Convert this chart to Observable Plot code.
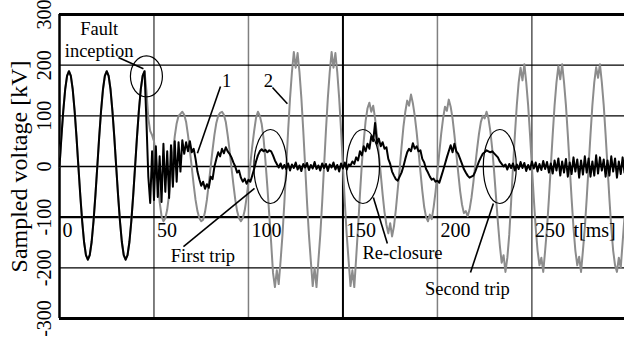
<!DOCTYPE html>
<html><head><meta charset="utf-8">
<script src="https://cdn.jsdelivr.net/npm/d3@7"></script>
<script src="https://cdn.jsdelivr.net/npm/@observablehq/plot@0.6"></script>
<style>body{margin:0;background:#fff;overflow:hidden} svg text{font-family:"Liberation Serif","Times New Roman",serif}</style>
</head><body><div id="chart"></div>
<script>
// sampling step of the read-off series (ms)
const stepMs = 1;

// Series 1 (black) – sampled voltage [kV], one value per ms from t = 0
const series1 = [
0,58,110,152,179,188,179,152,110,58, 0,-57,-108,-149,-175,-184,-175,-149,-108,-57,
0,58,110,152,179,188,179,152,110,58, 0,-57,-108,-149,-175,-184,-175,-149,-108,-57,
0,58,110,152,179,188,
90,-20,-72,30,-66,40,-60,20,-70,45,
-50,30,-62,42,-40,50,-30,48,-10,52,
25,48,30,50,28,35,15,-10,-25,-38,
-30,-44,-35,-42,-20,-25,0,15,28,20,
35,26,38,30,25,18,8,0,-12,-8,
-22,-30,-24,-34,-26,-30,-18,-5,10,22,
30,34,30,33,28,32,30,22,12,5,
-2,6,-4,3,
-5,6,-8,4,-3,8,-6,2,-9,5,
-2,7,-7,3,-4,9,-5,2,-8,6,
-3,5,-9,4,-2,8,-6,3,-10,6,
-4,8,-6,4,
2,10,5,18,12,30,
22,40,30,45,35,60,50,86,45,55,
40,48,35,38,15,5,-10,-18,-25,-28,
-20,-12,0,15,28,35,30,46,35,40,
30,32,15,8,-5,-12,-20,-26,-24,-30,
-28,-32,-20,-8,5,18,30,42,28,45,
30,25,15,5,-5,-12,-18,-22,-20,-18,
-10,0,10,18,25,28,32,30,28,30,
26,22,18,10,5,0,4,-6,5,-3,
6,-8,4,-5,9,-3,7,-9,3,-6,
10,-4,8,-10,5,-7,11,-5,9,-12,
6,-14,12,-8,16,-18,10,-12,15,-20,
8,-15,18,-10,14,-22,12,-16,20,-12,
16,-20,10,-18,22,-14,18,-8,14,-20,
12,-18,20,-10,16,-22,10,-15,18,-12
];

// Series 2 (grey) – sampled voltage [kV], one value per ms from t = 0
const series2 = [
0,58,110,152,179,188,179,152,110,58, 0,-57,-108,-149,-175,-184,-175,-149,-108,-57,
0,58,110,152,179,188,179,152,110,58, 0,-57,-108,-149,-175,-184,-175,-149,-108,-57,
0,58,110,152,179,188,
150,95,70,62,50,20,-25,-70,-98,-108,
-102,-85,-55,-15,25,60,85,100,104,108,
102,88,62,32,-2,-36,-66,-88,-102,-108,
-105,-90,-66,-34,0,33,63,86,100,106,
108,102,88,62,32,-2,-35,-65,-88,-102,
-108,-102,-87,-62,-30,5,40,70,96,108,
100,84,55,10,-40,-95,-150,-210,-238,-205,
-232,-186,-135,-71,0,71,135,186,226,195,
224,186,135,71,0,-71,-135,-186,-236,-200,
-238,-186,-135,-71,0,71,135,186,226,195,
224,186,135,71,0,-71,-135,-186,-236,-205,
-238,-180,-120,-55,5,50,90,115,126,108,
120,95,62,25,-15,-55,-90,-115,-132,-112,
-138,-118,-85,-45,-5,38,78,108,130,120,
142,125,100,68,30,-10,-48,-80,-100,-108,
-95,-104,-80,-50,-12,28,65,95,118,110,
132,118,95,62,25,-12,-48,-75,-92,-88,
-98,-85,-62,-32,2,35,65,88,100,95,
108,95,70,35,-10,-60,-110,-155,-190,-175,
-208,-180,-135,-70,0,63,121,166,195,170,
202,166,121,63,0,-63,-121,-166,-195,-180,
-208,-166,-121,-63,0,63,121,166,198,172,
202,166,121,63,0,-63,-121,-166,-195,-178,
-208,-166,-121,-63,0,63,121,166,196,175,
202,166,121,63,0,-63,-121,-166,-195,-208,
-180,-200,-150,-100
];

const xTicks = [0, 50, 100, 150, 200, 250];
const xUnit = "t[ms]";
const yTicks = [300, 200, 100, 0, -100, -200, -300];
const yTitle = "Sampled voltage [kV]";

// annotation texts and their anchor points (t [ms], v [kV])
const noteText = ["Fault\ninception", "1", "2", "First trip", "Re-closure", "Second trip"];
const noteT = [21, 88.4, 110.6, 75.9, 181.5, 215.9];
const noteV = [252, 170, 170, -175, -169, -240];
// leader lines (t1, v1) -> (t2, v2)
const leadT1 = [31.2, 85.2, 112.7, 65.6, 166.1, 229.6];
const leadV1 = [215, 158, 156, -158, -61, -73];
const leadT2 = [44.4, 73, 120.6, 103.2, 173.5, 217.5];
const leadV2 = [193, 26, 124, -43, -152, -209];
// ellipse centres
const ringT = [111.6, 160.6, 233];
const ringV = [0, 0, 0];
const faultRingT = [46];
const faultRingV = [178];

const rows1 = series1.map((v, i) => ({t: i * stepMs, v}));
const rows2 = series2.map((v, i) => ({t: i * stepMs, v}));
const notes = noteText.map((s, i) => ({s, t: noteT[i], v: noteV[i]}));
const leads = leadT1.map((t1, i) => ({t1, v1: leadV1[i], t2: leadT2[i], v2: leadV2[i]}));
const rings = ringT.map((t, i) => ({t, v: ringV[i]}));
const faultRings = faultRingT.map((t, i) => ({t, v: faultRingV[i]}));

function ellipseSymbol(a, b) {
  const k = 0.5523;
  return {draw(ctx) {
    ctx.moveTo(a, 0);
    ctx.bezierCurveTo(a, b * k, a * k, b, 0, b);
    ctx.bezierCurveTo(-a * k, b, -a, b * k, -a, 0);
    ctx.bezierCurveTo(-a, -b * k, -a * k, -b, 0, -b);
    ctx.bezierCurveTo(a * k, -b, a, -b * k, a, 0);
    ctx.closePath();
  }};
}

const serif = "'Liberation Serif', 'Times New Roman', serif";
const txt = {fill: "black", fontFamily: serif};

const chart = Plot.plot({
  width: 624,
  height: 345,
  marginLeft: 59,
  marginRight: 0,
  marginTop: 14,
  marginBottom: 27,
  style: {fontFamily: serif, fontSize: "20px", background: "white", color: "black"},
  x: {domain: [0, 299], axis: null},
  y: {domain: [-300, 300], axis: null},
  marks: [
    // grid
    Plot.ruleX(xTicks.filter(d => d === 50 || d === 250), {stroke: "black", strokeWidth: 1}),
    Plot.ruleX(xTicks.filter(d => d === 100 || d === 200), {stroke: "#808080", strokeWidth: 1.5}),
    Plot.ruleX(xTicks.filter(d => d === 150), {stroke: "black", strokeWidth: 2}),
    Plot.ruleY(yTicks.filter(d => Math.abs(d) < 300 && d !== -100), {stroke: "black", strokeWidth: 1.3}),
    Plot.ruleY(yTicks.filter(d => d === -100), {stroke: "black", strokeWidth: 2.2}),
    // frame
    Plot.ruleY(yTicks.filter(d => Math.abs(d) === 300), {stroke: "black", strokeWidth: 3}),
    Plot.ruleX([0], {stroke: "black", strokeWidth: 2.5}),
    // series
    Plot.line(rows2, {x: "t", y: "v", stroke: "#8c8c8c", strokeWidth: 2}),
    Plot.line(rows1, {x: "t", y: "v", stroke: "black", strokeWidth: 2}),
    // ellipses
    Plot.dot(faultRings, {x: "t", y: "v", symbol: ellipseSymbol(16, 20.5), r: 5, fill: "none", stroke: "black", strokeWidth: 1.2}),
    Plot.dot(rings, {x: "t", y: "v", symbol: ellipseSymbol(16.5, 37), r: 5, fill: "none", stroke: "black", strokeWidth: 1.2}),
    // leaders
    Plot.link(leads, {x1: "t1", y1: "v1", x2: "t2", y2: "v2", stroke: "black", strokeWidth: 1.6}),
    // annotation text
    Plot.text(notes, {...txt, x: "t", y: "v", text: "s", fontSize: 18.5, lineHeight: 1.2, textAnchor: "middle", lineAnchor: "middle"}),
    // x tick labels (inside plot)
    Plot.text(xTicks, {...txt, x: d => d, y: () => -127, text: d => String(d), textAnchor: "start", lineAnchor: "middle", dx: 3, fontSize: 20}),
    Plot.text([xUnit], {...txt, x: () => 272, y: () => -127, text: d => d, textAnchor: "start", lineAnchor: "middle", fontSize: 20}),
    // y tick labels (rotated)
    Plot.text(yTicks, {...txt, y: d => d, frameAnchor: "left", text: d => String(d), rotate: -90, textAnchor: "middle", lineAnchor: "bottom", dx: -9, fontSize: 20}),
    // y title
    Plot.text([yTitle], {...txt, frameAnchor: "left", text: d => d, rotate: -90, textAnchor: "middle", lineAnchor: "bottom", dx: -33, fontSize: 24})
  ]
});
document.getElementById("chart").appendChild(chart);
</script>
</body></html>
